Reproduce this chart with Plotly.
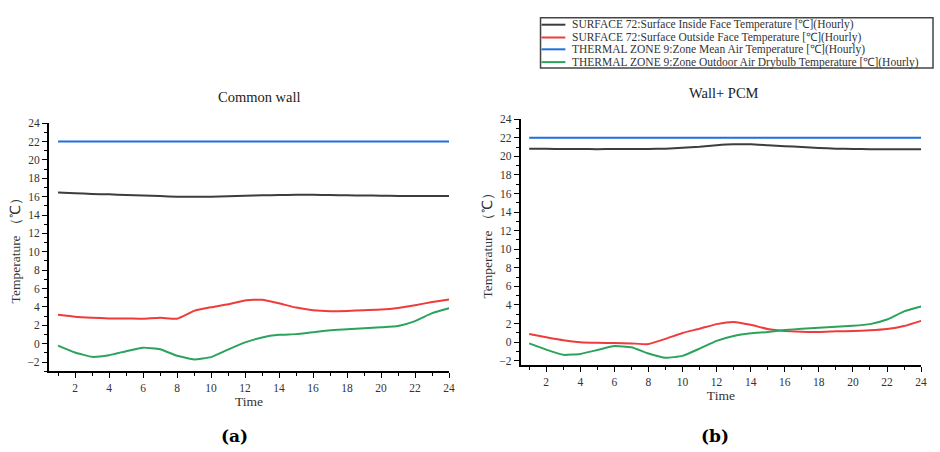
import plotly.graph_objects as go

hours = list(range(1, 25))

# Common wall (a)
inside_a = [16.45, 16.38, 16.3, 16.25, 16.18, 16.12, 16.06, 16.0, 16.0, 16.0, 16.05, 16.1,
            16.15, 16.18, 16.2, 16.2, 16.18, 16.15, 16.13, 16.1, 16.08, 16.07, 16.07, 16.07]
outside_a = [3.14, 2.93, 2.82, 2.75, 2.75, 2.71, 2.82, 2.71, 3.57, 3.96, 4.29, 4.71,
             4.79, 4.39, 3.93, 3.64, 3.54, 3.57, 3.64, 3.71, 3.89, 4.18, 4.54, 4.82]
zone_air_a = [22.0] * 24
outdoor_a = [-0.21, -0.96, -1.43, -1.25, -0.82, -0.43, -0.61, -1.32, -1.71, -1.46, -0.64, 0.14,
             0.68, 0.96, 1.04, 1.25, 1.46, 1.57, 1.68, 1.79, 1.93, 2.46, 3.32, 3.86]

# Wall + PCM (b)
inside_b = [20.83, 20.81, 20.8, 20.8, 20.78, 20.79, 20.8, 20.8, 20.83, 20.93, 21.04, 21.2,
            21.3, 21.3, 21.2, 21.1, 21.0, 20.9, 20.83, 20.8, 20.78, 20.77, 20.76, 20.76]
outside_b = [0.88, 0.53, 0.21, 0.0, -0.07, -0.1, -0.14, -0.21, 0.35, 0.99, 1.44, 1.94,
             2.18, 1.87, 1.41, 1.2, 1.13, 1.09, 1.16, 1.2, 1.27, 1.41, 1.73, 2.29]
zone_air_b = [22.0] * 24
outdoor_b = [-0.14, -0.81, -1.37, -1.27, -0.85, -0.42, -0.56, -1.23, -1.69, -1.48, -0.7, 0.14,
             0.67, 0.95, 1.09, 1.3, 1.44, 1.55, 1.66, 1.76, 1.94, 2.43, 3.31, 3.84]

series_names = [
    "SURFACE 72:Surface Inside Face Temperature [℃](Hourly)",
    "SURFACE 72:Surface Outside Face Temperature [℃](Hourly)",
    "THERMAL ZONE 9:Zone Mean Air Temperature [℃](Hourly)",
    "THERMAL ZONE 9:Zone Outdoor Air Drybulb Temperature [℃](Hourly)",
]
series_colors = ["#3d3d3d", "#ef3b3b", "#1f6fdc", "#2ba35c"]
panel_titles = ["Common wall", "Wall+ PCM"]
panel_labels = ["(a)", "(b)"]

W, H = 940, 452
FONT = "Liberation Serif"

def px(x):
    return x / W

def py(y):
    return 1 - y / H

fig = go.Figure()

panels = [
    (inside_a, outside_a, zone_air_a, outdoor_a, "x", "y"),
    (inside_b, outside_b, zone_air_b, outdoor_b, "x2", "y2"),
]
for (ins, outs, air, outd, xa, ya) in panels:
    for vals, name, col in zip([ins, outs, air, outd], series_names, series_colors):
        fig.add_trace(go.Scatter(x=hours, y=vals, mode="lines", name=name,
                                 line=dict(color=col, width=2, shape="spline", smoothing=0.4),
                                 xaxis=xa, yaxis=ya, showlegend=False))

axis_common = dict(showline=True, linecolor="black", linewidth=1.5, showgrid=False, zeroline=False,
                   ticks="outside", ticklen=5, tickwidth=1, tickcolor="black",
                   tickfont=dict(family=FONT, size=11.5, color="#333"),
                   minor=dict(ticks="outside", ticklen=3, tickwidth=1, tickcolor="black", dtick=1, showgrid=False))

title_font = dict(family=FONT, size=13.5, color="#333")
fig.update_layout(
    width=W, height=H, margin=dict(l=0, r=0, t=0, b=0),
    plot_bgcolor="white", paper_bgcolor="white",
    font=dict(family=FONT, color="#333"),
    xaxis=dict(axis_common, domain=[px(49), px(452)], range=[0.45, 24], dtick=2, tick0=0,
               anchor="y", title=dict(text="Time", font=title_font, standoff=4)),
    yaxis=dict(axis_common, domain=[py(371), py(119)], range=[-3, 24], dtick=2, tick0=0,
               anchor="x", title=dict(text="Temperature （℃）", font=title_font, standoff=4)),
    xaxis2=dict(axis_common, domain=[px(524), px(927)], range=[0.5, 24], dtick=2, tick0=0,
                anchor="y2", title=dict(text="Time", font=title_font, standoff=4)),
    yaxis2=dict(axis_common, domain=[py(365), py(115)], range=[-2.5, 24], dtick=2, tick0=0,
                anchor="x2", title=dict(text="Temperature （℃）", font=title_font, standoff=4)),
    showlegend=False,
)

annotations = []
# panel titles
for txt, cx, cy in zip(panel_titles, [261, 729], [92, 88]):
    annotations.append(dict(text=txt, x=px(cx), y=py(cy), xref="paper", yref="paper",
                            xanchor="center", yanchor="middle", showarrow=False,
                            font=dict(family=FONT, size=14.5, color="#222")))
# panel labels
for txt, cx in zip(panel_labels, [236, 720]):
    annotations.append(dict(text="<b>" + txt + "</b>", x=px(cx), y=py(437), xref="paper", yref="paper",
                            xanchor="center", yanchor="middle", showarrow=False,
                            font=dict(family="DejaVu Serif", size=17, color="black")))

# legend (drawn manually)
shapes = [dict(type="rect", xref="paper", yref="paper", x0=px(544), x1=px(939), y0=py(63), y1=py(12),
               line=dict(color="#444", width=1.5), fillcolor="white")]
legend_y = [19, 32, 44, 57]
for name, col, ly in zip(series_names, series_colors, legend_y):
    shapes.append(dict(type="line", xref="paper", yref="paper", x0=px(545), x1=px(569),
                       y0=py(ly), y1=py(ly), line=dict(color=col, width=2)))
    annotations.append(dict(text=name, x=px(574), y=py(ly), xref="paper", yref="paper",
                            xanchor="left", yanchor="middle", showarrow=False,
                            font=dict(family=FONT, size=11.5, color="#333")))

fig.update_layout(annotations=annotations, shapes=shapes)
fig.write_html("out.html", config={"displayModeBar": False},
               post_script="document.body.style.margin='0px';")
